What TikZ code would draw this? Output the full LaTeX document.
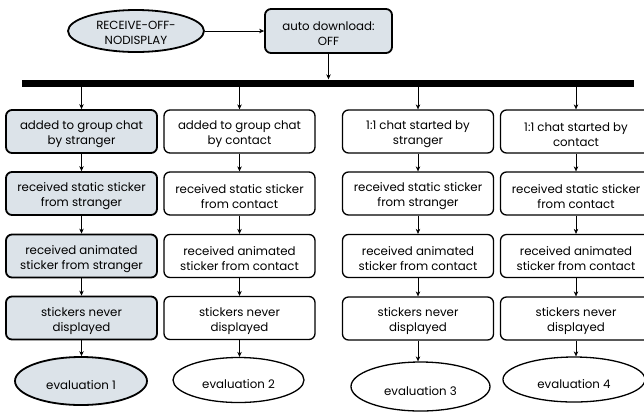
\documentclass[tikz,border=0pt]{standalone}
\usepackage{fontspec}
\setmainfont{Poppins}
\usetikzlibrary{shapes.geometric,arrows.meta}
\definecolor{boxfill}{RGB}{220,227,233}
\tikzset{
  base/.style={align=center,inner sep=0pt,font=\fontsize{11.8}{15}\selectfont},
  lowtext/.style={execute at begin node={\rule{0pt}{#1}}},
  hbox/.style={base,lowtext=30pt,draw,rectangle,rounded corners=6pt,minimum width=151pt,minimum height=43pt},
  greybox/.style={hbox,fill=boxfill,line width=1.8pt},
  whitebox/.style={hbox,fill=white,line width=1.3pt},
  greyell/.style={base,lowtext=18pt,draw,ellipse,fill=boxfill,line width=1.8pt},
  whiteell/.style={base,lowtext=18pt,draw,ellipse,fill=white,line width=1.3pt},
  arr/.style={line width=0.6pt,-{Stealth[length=5pt,width=4.5pt]}},
}
\begin{document}
\begin{tikzpicture}[x=1pt,y=-1pt]
\useasboundingbox (0,0) rectangle (644,413);
\node[greyell,lowtext=26.5pt,minimum width=136pt,minimum height=42pt] (recv) at (136,31) {RECEIVE-OFF-\\NODISPLAY};
\node[greybox,lowtext=26.5pt,minimum width=127pt,minimum height=44pt] (auto) at (328.5,31) {auto download:\\OFF};
\node[fill=black,inner sep=0pt,minimum width=612pt,minimum height=7pt] (bar) at (328,83) {};
\draw[arr] (recv) -- (auto);
\draw[arr] (auto.south) -- (auto.south|-bar.north);
% column 1
\node[greybox] (a1) at (81.5,131.5) {added to group chat\\by stranger};
\node[greybox] (a2) at (81.5,193.5) {received static sticker\\from stranger};
\node[greybox] (a3) at (81.5,256) {received animated\\sticker from stranger};
\node[greybox] (a4) at (81.5,318) {stickers never\\displayed};
\node[greyell,minimum width=132pt,minimum height=48pt] (a5) at (81,381) {evaluation 1};
% column 2
\node[whitebox] (b1) at (239.5,131.5) {added to group chat\\by contact};
\node[whitebox] (b2) at (239.5,193.5) {received static sticker\\from contact};
\node[whitebox] (b3) at (239.5,256) {received animated\\sticker from contact};
\node[whitebox] (b4) at (239.5,318) {stickers never\\displayed};
\node[whiteell,minimum width=131pt,minimum height=45pt] (b5) at (238.5,380) {evaluation 2};
% column 3
\node[whitebox] (c1) at (418,131.5) {1:1 chat started by\\stranger};
\node[whitebox] (c2) at (418,193.5) {received static sticker\\from stranger};
\node[whitebox] (c3) at (418,256) {received animated\\sticker from contact};
\node[whitebox] (c4) at (418,318.5) {stickers never\\displayed};
\node[whiteell,minimum width=139pt,minimum height=49pt] (c5) at (420.5,386.5) {evaluation 3};
% column 4
\node[whitebox] (d1) at (576,131.5) {1:1 chat started by\\contact};
\node[whitebox] (d2) at (576,193.5) {received static sticker\\from contact};
\node[whitebox] (d3) at (576,256) {received animated\\sticker from contact};
\node[whitebox] (d4) at (576,318.5) {stickers never\\displayed};
\node[whiteell,minimum width=142pt,minimum height=45pt] (d5) at (574,379.5) {evaluation 4};
\foreach \c in {a,b,c,d}{
  \draw[arr] (\c1.north|-bar.south) -- (\c1.north);
  \draw[arr] (\c1) -- (\c2);
  \draw[arr] (\c2) -- (\c3);
  \draw[arr] (\c3) -- (\c4);
  \draw[arr] (\c4.south) -- (\c4.south|-\c5.north);
}
\end{tikzpicture}
\end{document}
